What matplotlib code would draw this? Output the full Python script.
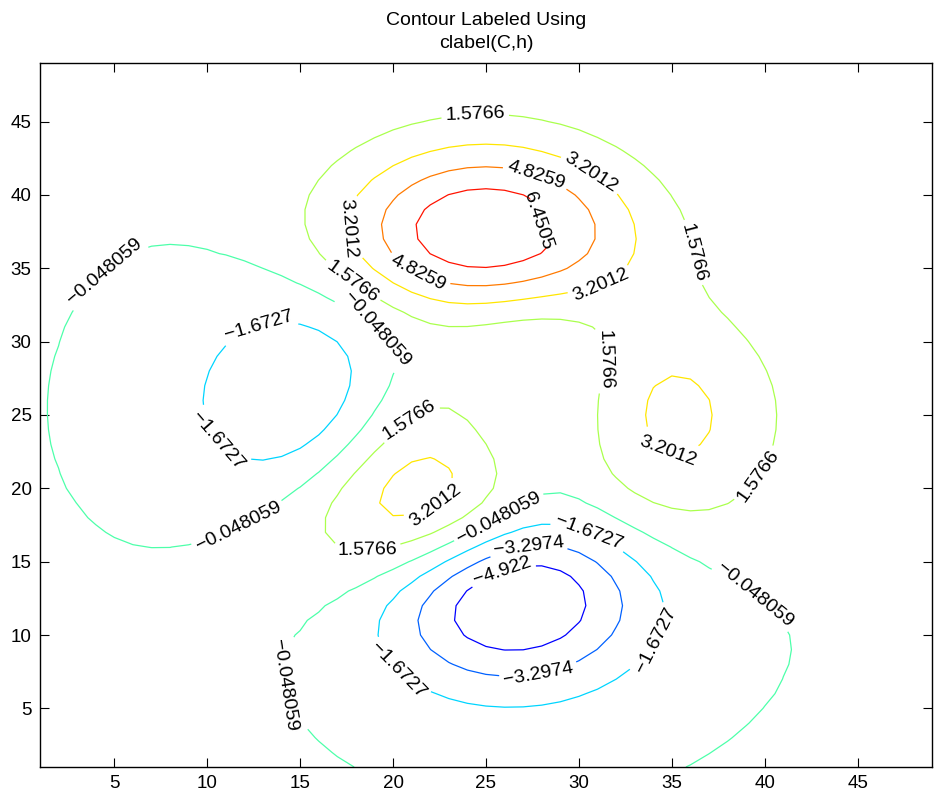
import numpy as np
import matplotlib
matplotlib.use('Agg')
import matplotlib.pyplot as plt
from matplotlib.patches import Polygon

plt.rcParams['font.family'] = ['Liberation Sans', 'DejaVu Sans']
plt.rcParams['contour.negative_linestyle'] = 'solid'

# peaks surface on a 49x49 grid, plotted against grid indices 1..49
n = 49
levels = [-4.922, -3.2974, -1.6727, -0.048059, 1.5766, 3.2012, 4.8259, 6.4505]
zlim = [-6.5466, 8.0752]
ticks = [5, 10, 15, 20, 25, 30, 35, 40, 45]

# where each label sits (data coords), per level
label_pos = {
    -4.922: [(25.9, 14.3)],
    -3.2974: [(27.3, 15.85), (27.8, 7.65)],
    -1.6727: [(12.9, 30.7), (11.3, 23.9), (30.5, 16.9), (33.9, 9.85), (20.3, 7.65)],
    -0.048059: [(4.48, 34.8), (18.85, 30.5), (11.75, 17.2), (25.7, 18.0),
                (39.25, 12.4), (14.3, 6.6)],
    1.5766: [(24.42, 45.35), (35.9, 36.0), (17.8, 34.1), (31.1, 28.8),
             (21.2, 24.2), (39.5, 21.0), (18.6, 16.0)],
    3.2012: [(30.55, 41.3), (17.8, 37.8), (31.1, 34.1), (35.0, 23.0), (21.95, 19.6)],
    4.8259: [(27.65, 41.2), (21.4, 34.8)],
}
# the top level label cuts straight across its loop (chord end points)
top_chord = [(27.33, 39.95), (28.24, 36.54)]

u = np.linspace(-3, 3, n)
X, Y = np.meshgrid(u, u)
Z = (3 * (1 - X)**2 * np.exp(-X**2 - (Y + 1)**2)
     - 10 * (X / 5 - X**3 - Y**5) * np.exp(-X**2 - Y**2)
     - 1 / 3 * np.exp(-(X + 1)**2 - Y**2))
idx = np.arange(1, n + 1)

fig = plt.figure(figsize=(9.38, 7.96), dpi=100)
ax = fig.add_axes([0.0426, 0.0364, 0.9510, 0.8845])
ax.set_xlim(1, 49)
ax.set_ylim(1, 49)

cmap = plt.get_cmap('jet')
norm = plt.Normalize(zlim[0], zlim[1])

for lev in levels:
    cs = ax.contour(idx, idx, Z, levels=[lev], colors=[cmap(norm(lev))],
                    linewidths=0.9, linestyles='solid')
    txt = ('%g' % lev).replace('-', '\u2212')
    if lev in label_pos:
        cs.clabel(manual=label_pos[lev], fmt={lev: txt}, fontsize=14,
                  colors='black', inline=True, inline_spacing=4)
    else:
        (x1, y1), (x2, y2) = top_chord
        k = (x2 - x1) / (y2 - y1)
        clip = Polygon([(1, 49), (x1 + (49 - y1) * k, 49),
                        (x1 + (1 - y1) * k, 1), (1, 1)],
                       closed=True, transform=ax.transData)
        cs.set_clip_path(clip)
        p1 = ax.transData.transform((x1, y1))
        p2 = ax.transData.transform((x2, y2))
        ang = np.degrees(np.arctan2(p2[1] - p1[1], p2[0] - p1[0]))
        ax.text((x1 + x2) / 2, (y1 + y2) / 2, txt, rotation=ang,
                rotation_mode='anchor', ha='center', va='center', fontsize=14)

ax.set_xticks(ticks)
ax.set_yticks(ticks)
ax.tick_params(direction='in', length=6.5, width=0.8, top=True, right=True,
               labelsize=13.5, pad=6)
for s in ax.spines.values():
    s.set_linewidth(1.0)

ax.set_title('Contour Labeled Using\nclabel(C,h)', fontsize=14, pad=11,
             linespacing=1.45)

fig.savefig('out.png', dpi=100, facecolor='white')
